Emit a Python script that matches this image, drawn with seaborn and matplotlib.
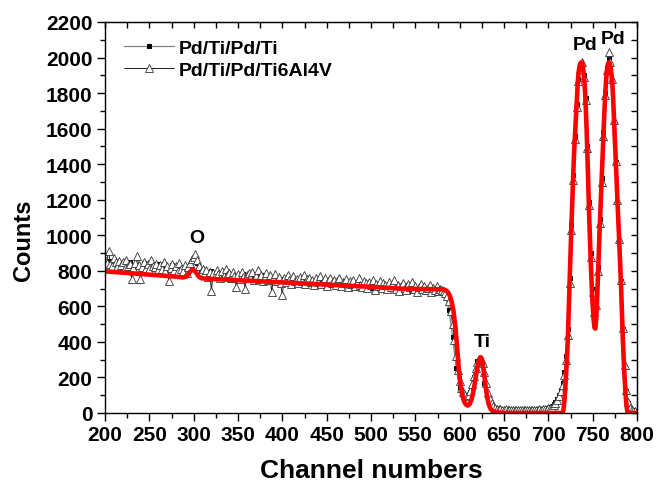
import numpy as np
import matplotlib
matplotlib.use("Agg")
import matplotlib.pyplot as plt
import seaborn as sns

# ---------------- data ----------------
# Pd/Ti/Pd/Ti6Al4V (open triangles), channels 200..698 step 2, then 700..800 step 2
tri_ch_a = np.arange(200, 700, 2)
tri_counts_a = [
    862, 845, 913, 838, 826, 871, 850, 822, 857, 835,
    848, 816, 860, 829, 841, 752, 818, 846, 885, 832,
    755, 824, 851, 815, 838, 809, 862, 826, 820, 841,
    803, 835, 812, 848, 798, 829, 740, 817, 839, 805,
    826, 798, 843, 812, 801, 834, 790, 822, 845, 868,
    880, 893, 862, 828, 795, 812, 780, 803, 768, 795,
    688, 790, 772, 806, 781, 759, 798, 770, 812, 775,
    788, 762, 795, 770, 707, 781, 752, 796, 768, 700,
    775, 788, 760, 792, 748, 771, 803, 756, 779, 742,
    768, 790, 751, 775, 682, 759, 781, 744, 767, 729,
    664, 762, 738, 775, 749, 728, 770, 745, 755, 731,
    766, 740, 779, 725, 752, 761, 736, 748, 720, 757,
    738, 769, 726, 744, 757, 715, 740, 762, 731, 749,
    722, 745, 758, 716, 738, 730, 754, 709, 741, 727,
    748, 715, 733, 759, 721, 708, 744, 729, 702, 737,
    719, 746, 690, 728, 713, 740, 705, 731, 718, 697,
    735, 709, 725, 748, 700, 722, 688, 714, 730, 706,
    693, 724, 710, 735, 697, 716, 683, 708, 727, 695,
    712, 690, 705, 722, 682, 701, 694, 715, 688, 699,
    690, 686, 675, 660, 630, 575, 500, 410, 320, 240,
    178, 140, 116, 103, 98, 104, 125, 162, 208, 252,
    286, 304, 306, 282, 230, 168, 114, 78, 54, 40,
    30, 25, 22, 20, 19, 18, 20, 17, 19, 18,
    17, 19, 16, 18, 17, 15, 18, 16, 17, 19,
    16, 18, 17, 19, 18, 20, 19, 21, 22, 24,
]
tri_ch_b = np.arange(700, 801, 2)
tri_counts_b = [
    26, 30, 36, 45, 58, 75, 98, 125, 160, 215,
    300, 440, 730, 1030, 1310, 1540, 1720, 1870, 1935, 1977,
    1890, 1760, 1490, 1170, 880, 680, 570, 610, 800, 1070,
    1300, 1560, 1790, 1930, 2029, 1975, 1880, 1650, 1420, 1200,
    980, 750, 480, 270, 130, 60, 30, 18, 12, 10,
    8,
]

# Pd/Ti/Pd/Ti (small squares)
sq_ch_a = np.arange(200, 700, 4)
sq_counts_a = [
    838, 856, 829, 847, 815, 840, 826, 851, 818, 835,
    822, 844, 810, 831, 818, 839, 805, 826, 812, 830,
    808, 825, 799, 817, 835, 862, 842, 805, 792, 781,
    798, 776, 789, 770, 785, 763, 779, 758, 772, 780,
    756, 771, 749, 765, 778, 752, 767, 744, 760, 738,
    755, 742, 761, 736, 750, 729, 746, 758, 733, 741,
    727, 748, 735, 719, 742, 731, 716, 737, 725, 712,
    733, 720, 708, 728, 715, 702, 724, 711, 698, 719,
    706, 725, 694, 713, 700, 718, 689, 707, 696, 712,
    698, 686, 703, 690, 696, 685, 662, 578, 430, 255,
    140, 112, 98, 120, 205, 292, 290, 170, 82, 44,
    28, 22, 19, 18, 16, 17, 15, 17, 16, 18,
    17, 18, 20, 22, 25,
]
sq_ch_b = np.arange(700, 801, 2)
sq_counts_b = [
    28, 32, 38, 48, 62, 80, 104, 132, 170, 230,
    320, 470, 760, 1060, 1340, 1560, 1740, 1880, 1945, 1960,
    1900, 1770, 1500, 1190, 900, 700, 590, 630, 820, 1090,
    1320, 1580, 1800, 1940, 1995, 1960, 1870, 1640, 1410, 1190,
    970, 740, 470, 260, 125, 58, 28, 16, 11, 9,
    7,
]

# simulation (red line)
fit_ch_a = [200, 220, 240, 260, 280, 288, 292, 296, 299, 302, 306, 309, 330, 360,
            400, 440, 476, 500, 533, 560, 580, 583, 585, 587, 589, 591, 593, 595,
            597, 599, 601, 603, 605, 607, 609, 611, 613, 615, 617, 619, 621, 623,
            624, 625, 627, 629, 631, 633, 635, 637, 640, 645, 650, 700, 713]
fit_counts_a = [797, 790, 782, 775, 767, 763, 768, 795, 810, 795, 766, 758, 752, 745,
                735, 725, 716, 710, 700, 697, 696, 693, 688, 678, 658, 625, 575, 490,
                380, 250, 160, 100, 65, 48, 42, 48, 70, 110, 165, 230, 285, 312,
                313, 305, 245, 160, 90, 45, 22, 12, 6, 2, 0, 0, 0]
fit_ch_b = np.arange(714, 801, 1)
fit_counts_b = [
    0, 0, 2, 15, 60, 130, 220, 310, 420, 580,
    760, 910, 1050, 1190, 1330, 1460, 1560, 1660, 1748, 1840,
    1910, 1945, 1965, 1973, 1972, 1950, 1905, 1845, 1750, 1620,
    1467, 1290, 1120, 970, 830, 710, 610, 530, 482, 475,
    530, 640, 780, 920, 1050, 1170, 1290, 1420, 1550, 1670,
    1780, 1860, 1920, 1958, 1973, 1970, 1950, 1915, 1870, 1780,
    1660, 1540, 1410, 1300, 1190, 1080, 960, 840, 716, 570,
    420, 300, 200, 115, 50, 12, 0, 0, 0, 0,
    0, 0, 0, 0, 0, 0, 0,
]

series_labels = ["Pd/Ti/Pd/Ti", "Pd/Ti/Pd/Ti6Al4V"]
peak_labels = [("O", 304, 990), ("Ti", 626, 405), ("Pd", 741, 2071), ("Pd", 773, 2105)]

# ---------------- plot ----------------
sns.set_style("ticks")
plt.rcParams["font.family"] = ["Liberation Sans", "DejaVu Sans"]
plt.rcParams["font.weight"] = "bold"
for key in ["text.color", "axes.labelcolor", "xtick.color", "ytick.color", "axes.edgecolor"]:
    plt.rcParams[key] = "black"

fig = plt.figure(figsize=(6.57, 4.85), dpi=100)
ax = fig.add_axes([105 / 657, 1 - 414 / 485, 532 / 657, 391 / 485])

sq_x = np.concatenate([sq_ch_a, sq_ch_b])
sq_y = np.array(sq_counts_a + sq_counts_b)
tri_x = np.concatenate([tri_ch_a, tri_ch_b])
tri_y = np.array(tri_counts_a + tri_counts_b)
fit_x = np.concatenate([np.array(fit_ch_a), fit_ch_b])
fit_y = np.array(fit_counts_a + fit_counts_b)

sns.lineplot(x=sq_x, y=sq_y, ax=ax, sort=False, estimator=None, color="#808080",
             lw=0.9, marker="s", markersize=2.5, markerfacecolor="black",
             markeredgecolor="black", label=series_labels[0])
sns.lineplot(x=tri_x, y=tri_y, ax=ax, sort=False, estimator=None, color="#222222",
             lw=0.7, marker="^", markersize=5.5, markerfacecolor="white",
             markeredgecolor="#333333", markeredgewidth=0.6, label=series_labels[1])
sns.lineplot(x=fit_x, y=fit_y, ax=ax, sort=False, estimator=None, color="#ff0000",
             lw=3.3, label="_fit")

ax.set_xlim(200, 800)
ax.set_ylim(0, 2200)
ax.set_xticks(np.arange(200, 801, 50))
ax.set_xticks(np.arange(200, 801, 25), minor=True)
ax.set_yticks(np.arange(0, 2201, 200))
ax.set_yticks(np.arange(0, 2201, 100), minor=True)
ax.tick_params(axis="both", which="major", direction="out", length=6, width=1,
               labelsize=15, pad=3, color="black", labelcolor="black")
ax.tick_params(axis="both", which="minor", direction="out", length=3.5, width=1, color="black")
for lab in ax.get_xticklabels() + ax.get_yticklabels():
    lab.set_fontweight("bold")

for s in ax.spines.values():
    s.set_linewidth(1.0)
    s.set_color("black")

top = ax.secondary_xaxis("top")
top.set_xticks(np.arange(200, 801, 25))
top.tick_params(direction="in", length=4, width=1, labeltop=False, color="black")
right = ax.secondary_yaxis("right")
right.set_yticks(np.arange(0, 2201, 100))
right.tick_params(direction="in", length=4, width=1, labelright=False, color="black")

ax.set_xlabel("Channel numbers", fontsize=19, fontweight="bold", labelpad=10, color="black")
ax.set_ylabel("Counts", fontsize=17, fontweight="bold", labelpad=10, color="black")
ax.yaxis.set_label_coords(-0.132, 0.445)

for txt, xx, yy in peak_labels:
    ax.text(xx, yy, txt, fontsize=14, fontweight="bold", ha="center", va="center",
            color="black")

handles, labels = ax.get_legend_handles_labels()
leg = ax.legend(handles[:2], labels[:2], loc="upper left", bbox_to_anchor=(0.035, 0.955),
                frameon=False, fontsize=14, handlelength=2.6, handletextpad=0.25,
                labelspacing=0.2, borderaxespad=0, borderpad=0)
for t in leg.get_texts():
    t.set_fontweight("bold")
    t.set_color("black")

fig.savefig("out.png", dpi=100)
